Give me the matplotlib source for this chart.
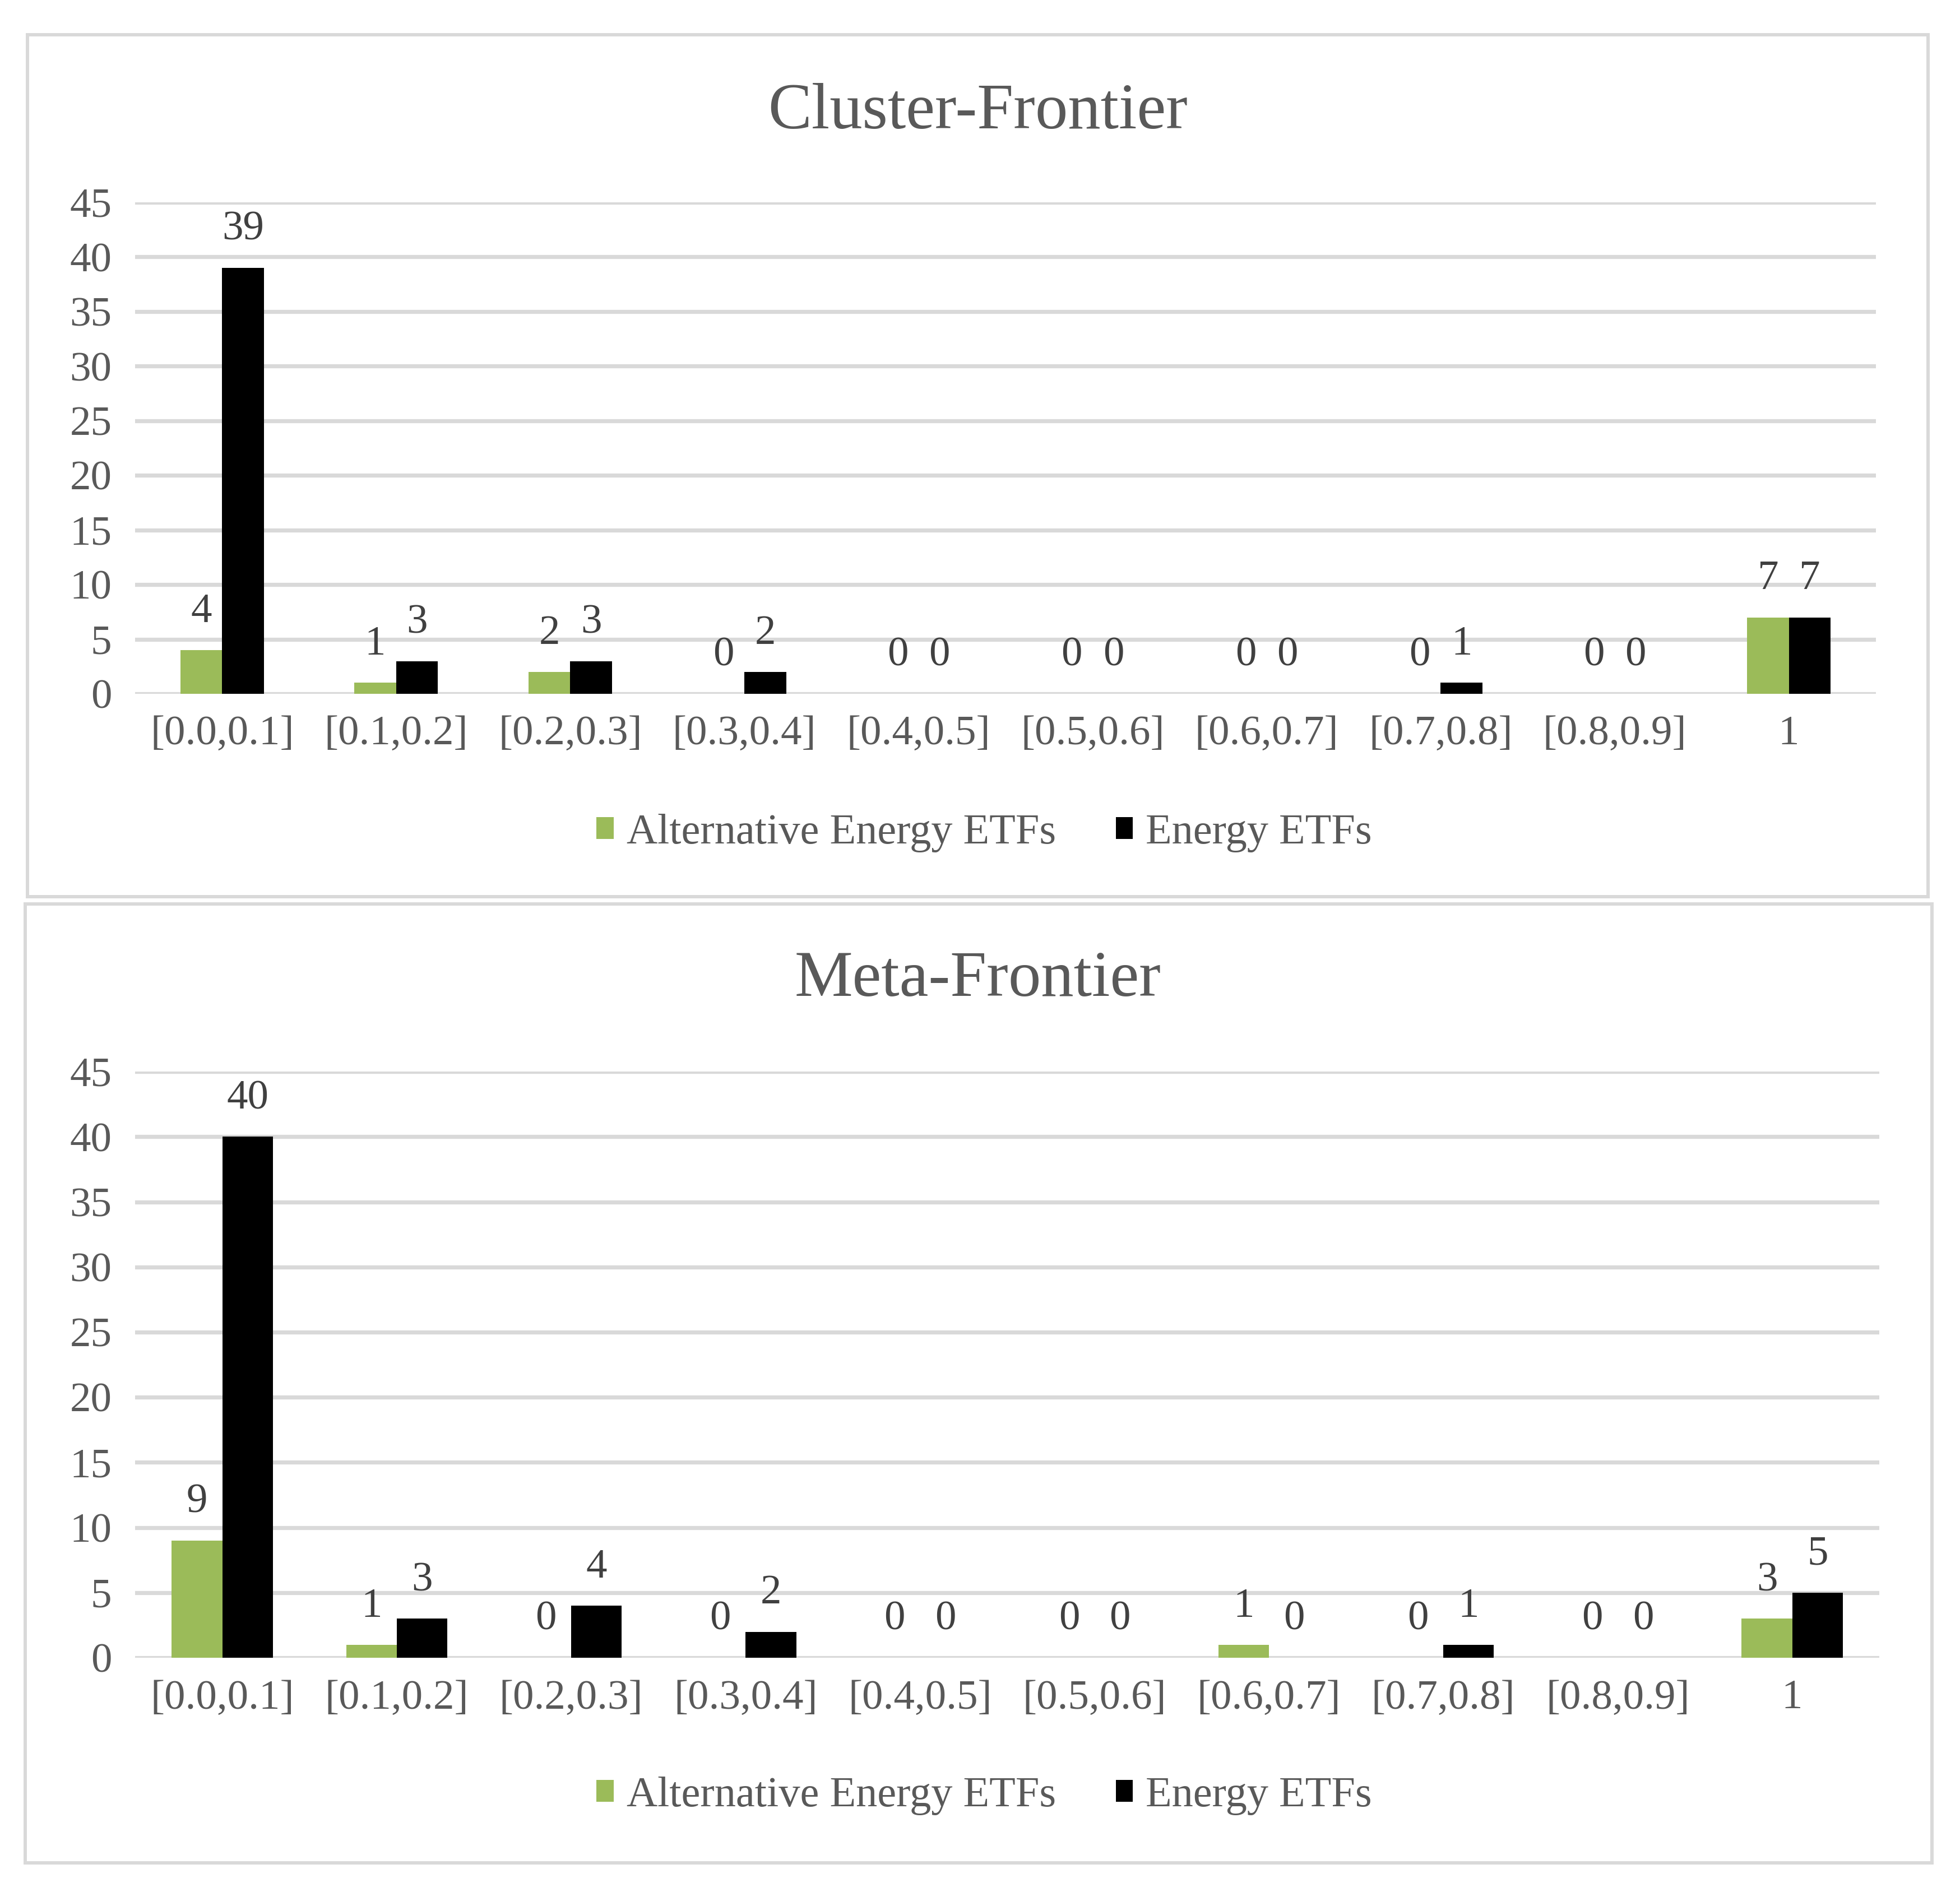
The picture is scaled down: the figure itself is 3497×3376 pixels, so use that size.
import numpy as np
import matplotlib
matplotlib.use("Agg")
import matplotlib.pyplot as plt
from matplotlib.patches import Rectangle, Patch

# data
categories = ['[0.0,0.1]', '[0.1,0.2]', '[0.2,0.3]', '[0.3,0.4]', '[0.4,0.5]',
              '[0.5,0.6]', '[0.6,0.7]', '[0.7,0.8]', '[0.8,0.9]', '1']
cluster_alt = [4, 1, 2, 0, 0, 0, 0, 0, 0, 7]
cluster_energy = [39, 3, 3, 2, 0, 0, 0, 1, 0, 7]
meta_alt = [9, 1, 0, 0, 0, 0, 1, 0, 0, 3]
meta_energy = [40, 3, 4, 2, 0, 0, 0, 1, 0, 5]
series_names = ['Alternative Energy ETFs', 'Energy ETFs']
yticks = [0, 5, 10, 15, 20, 25, 30, 35, 40, 45]

GREEN = '#9BBB59'
BLACK = '#000000'
GRID = '#D9D9D9'
TXT = '#595959'
LBL = '#404040'
FS = 54

plt.rcParams['font.family'] = ['Liberation Serif', 'DejaVu Serif']

W, H = 3498, 3376
fig = plt.figure(figsize=(W / 100, H / 100), dpi=100)


def panel_border(x0, y0, x1, y1):
    # pixel coords from top-left
    fig.patches.append(Rectangle((x0 / W, 1 - y1 / H), (x1 - x0) / W, (y1 - y0) / H,
                                 transform=fig.transFigure, fill=False,
                                 edgecolor=GRID, linewidth=4.3, zorder=0))


def draw_panel(rect, title, title_y, alt, energy, width, legend_y):
    ax = fig.add_axes(rect)
    x = np.arange(len(categories))
    b1 = ax.bar(x - width / 2, alt, width, color=GREEN, zorder=3)
    b2 = ax.bar(x + width / 2, energy, width, color=BLACK, zorder=3)
    for bars, vals in ((b1, alt), (b2, energy)):
        for bar, v in zip(bars, vals):
            ax.annotate(str(v), (bar.get_x() + bar.get_width() / 2, v),
                        xytext=(0, 49), textcoords='offset points',
                        ha='center', va='center', fontsize=FS, color=LBL)
    ax.set_xlim(-0.5, len(categories) - 0.5)
    ax.set_ylim(0, 45)
    ax.set_yticks(yticks)
    ax.set_xticks(x)
    ax.set_xticklabels(categories)
    ax.yaxis.grid(True, color=GRID, linewidth=5.2, zorder=0)
    ax.set_axisbelow(True)
    for s in ax.spines.values():
        s.set_visible(False)
    ax.tick_params(axis='both', length=0, labelsize=FS, colors=TXT)
    ax.tick_params(axis='x', pad=28)
    ax.tick_params(axis='y', pad=30)
    fig.text(0.4988, title_y, title, ha='center', va='center', fontsize=84, color=TXT)
    handles = [Patch(facecolor=GREEN), Patch(facecolor=BLACK)]
    leg = fig.legend(handles, series_names, loc='center', bbox_to_anchor=(0.502, legend_y),
                     ncol=2, frameon=False, fontsize=55, handlelength=0.4, handleheight=0.4,
                     handletextpad=0.3, columnspacing=1.4)
    for t in leg.get_texts():
        t.set_color(TXT)
    return ax


panel_border(49, 62, 3440, 1600)
panel_border(45, 1613, 3447, 3324)

draw_panel([0.0689, 0.6333, 0.9568 - 0.0689, 0.8931 - 0.6333], 'Cluster-Frontier', 0.9405,
           cluster_alt, cluster_energy, 0.24, 0.5598)
draw_panel([0.0689, 0.1238, 0.9586 - 0.0689, 0.4336 - 0.1238], 'Meta-Frontier', 0.482,
           meta_alt, meta_energy, 0.29, 0.0508)

fig.savefig('out.png', dpi=100, facecolor='white')
